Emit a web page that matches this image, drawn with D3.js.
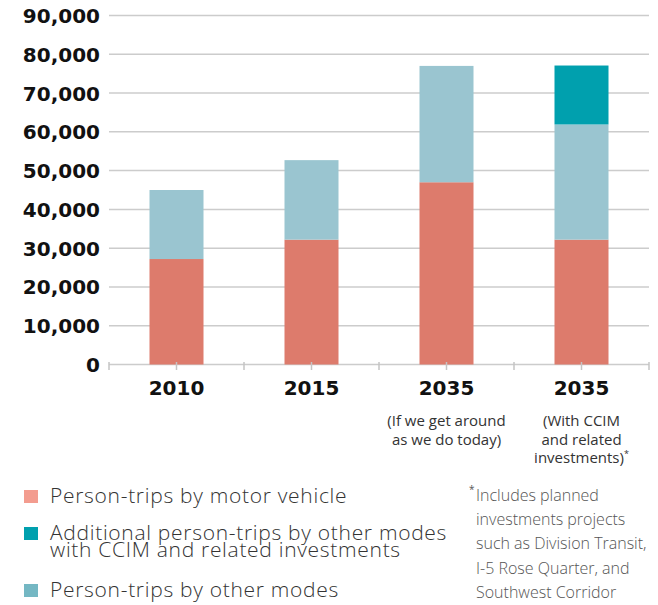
<!DOCTYPE html>
<html>
<head>
<meta charset="utf-8">
<script src="https://cdn.jsdelivr.net/npm/d3@7"></script>
<style>
  body { margin: 0; background: #fff; }
  svg { display: block; }
</style>
</head>
<body>
<div id="chart"></div>
<script>
const categories = ["2010", "2015", "2035a", "2035b"];
const categoryLabels = ["2010", "2015", "2035", "2035"];
const subLabels = [[], [], ["(If we get around", "as we do today)"], ["(With CCIM", "and related", "investments)*"]];
const motorVehicle = [27200, 32200, 47000, 32200];
const otherModes = [17800, 20500, 30000, 29700];
const additionalCcim = [0, 0, 0, 15200];
const yTicks = [0, 10000, 20000, 30000, 40000, 50000, 60000, 70000, 80000, 90000];

const seriesKeys = ["motor", "other", "ccim"];
const seriesColors = { motor: "#dd7b6c", other: "#9ac5d0", ccim: "#00a0ae" };
const legendItems = [
  { lines: ["Person-trips by motor vehicle"], color: "#f39c8f" },
  { lines: ["Additional person-trips by other modes", "with CCIM and related investments"], color: "#00a0ae" },
  { lines: ["Person-trips by other modes"], color: "#74b7c3" }
];
const footnote = ["Includes planned", "investments projects", "such as Division Transit,", "I-5 Rose Quarter, and", "Southwest Corridor"];

const rows = categories.map((c, i) => ({
  cat: c,
  motor: motorVehicle[i],
  other: otherModes[i],
  ccim: additionalCcim[i]
}));

const width = 658, height = 605;
const svg = d3.select("#chart").append("svg")
  .attr("width", width)
  .attr("height", height);

const x = d3.scaleBand()
  .domain(categories)
  .range([109, 649])
  .paddingInner(0.6)
  .paddingOuter(0.3);

const y = d3.scaleLinear().domain([0, 90000]).range([364.5, 15.5]);

// gridlines
svg.append("g")
  .selectAll("line")
  .data(yTicks)
  .join("line")
  .attr("x1", 109)
  .attr("x2", 649)
  .attr("y1", d => y(d))
  .attr("y2", d => y(d))
  .attr("stroke", "#cccccc")
  .attr("stroke-width", 1.5);

// y labels
svg.append("g")
  .selectAll("text")
  .data(yTicks)
  .join("text")
  .attr("x", 100)
  .attr("y", d => y(d) + 7.5)
  .attr("text-anchor", "end")
  .style("font-family", "'DejaVu Sans', sans-serif")
  .style("font-weight", "bold")
  .style("font-size", "20px")
  .style("fill", "#111")
  .text(d => d3.format(",")(d));

// stacked bars
const stack = d3.stack().keys(seriesKeys)(rows);
svg.append("g")
  .selectAll("g")
  .data(stack)
  .join("g")
  .attr("fill", d => seriesColors[d.key])
  .selectAll("rect")
  .data(d => d)
  .join("rect")
  .attr("x", d => x(d.data.cat))
  .attr("width", x.bandwidth())
  .attr("y", d => y(d[1]))
  .attr("height", d => y(d[0]) - y(d[1]));

// axis ticks at band centers and boundaries
const tickXs = [109];
categories.forEach(c => {
  tickXs.push(x(c) + x.bandwidth() / 2);
  tickXs.push(x(c) + x.bandwidth() / 2 + x.step() / 2);
});
svg.append("g")
  .selectAll("line")
  .data(tickXs)
  .join("line")
  .attr("x1", d => d)
  .attr("x2", d => d)
  .attr("y1", 362)
  .attr("y2", 370)
  .attr("stroke", "#c4c4c4")
  .attr("stroke-width", 1.5);

// x labels
const xl = svg.append("g")
  .selectAll("g")
  .data(categories)
  .join("g")
  .attr("transform", d => `translate(${x(d) + x.bandwidth() / 2},0)`);

xl.append("text")
  .attr("y", 395)
  .attr("text-anchor", "middle")
  .style("font-family", "'DejaVu Sans', sans-serif")
  .style("font-weight", "bold")
  .style("font-size", "20px")
  .style("fill", "#111")
  .text((d, i) => categoryLabels[i]);

xl.each(function (d, i) {
  const g = d3.select(this);
  subLabels[i].forEach((line, j) => {
    const t = g.append("text")
      .attr("y", 426 + j * 18.5)
      .attr("text-anchor", "middle")
      .style("font-family", "'Open Sans', sans-serif")
      .style("font-size", "15px")
      .style("fill", "#333");
    if (line.endsWith("*")) {
      t.text(line.slice(0, -1));
      t.append("tspan").attr("dy", -6).style("font-size", "9px").text("*");
    } else {
      t.text(line);
    }
  });
});

// legend
const legendBaselines = [503, 540, 597];
legendItems.forEach((item, i) => {
  const base = legendBaselines[i];
  svg.append("rect")
    .attr("x", 24)
    .attr("y", base - 13)
    .attr("width", 14)
    .attr("height", 13)
    .attr("fill", item.color);
  item.lines.forEach((line, j) => {
    svg.append("text")
      .attr("x", 50)
      .attr("y", base + j * 17)
      .style("font-family", "'Open Sans', sans-serif")
      .style("font-weight", 300)
      .style("font-size", "21px")
      .style("letter-spacing", "0.7px")
      .style("fill", "#333")
      .text(line);
  });
});

// footnote
svg.append("text")
  .attr("x", 469)
  .attr("y", 493)
  .style("font-family", "'Open Sans', sans-serif")
  .style("font-size", "10px")
  .style("fill", "#555")
  .text("*");
footnote.forEach((line, i) => {
  svg.append("text")
    .attr("x", 476)
    .attr("y", 501 + i * 24.2)
    .style("font-family", "'Open Sans', sans-serif")
    .style("font-weight", 300)
    .style("font-size", "16px")
    .style("fill", "#555")
    .text(line);
});
</script>
</body>
</html>
